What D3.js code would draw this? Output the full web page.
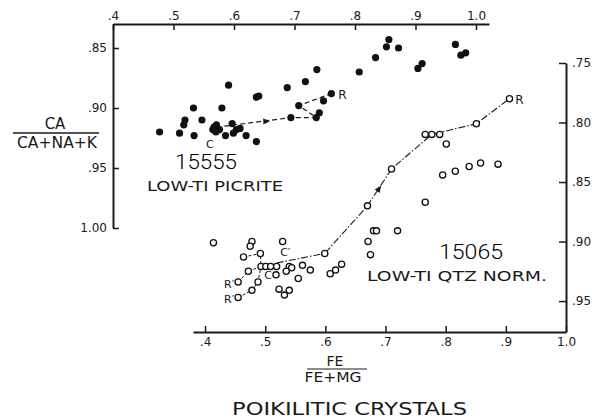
<!DOCTYPE html>
<html>
<head>
<meta charset="utf-8">
<title>Poikilitic crystals</title>
<script src="https://d3js.org/d3.v7.min.js"></script>
<style>
  body { margin: 0; padding: 0; background: #fff; }
  text { font-family: "DejaVu Sans", sans-serif; fill: #1a1a1a; }
  .axis path, .axis line { stroke: #1a1a1a; }
  .axis path { stroke-width: 2px; }
  .axis line { stroke-width: 1.5px; }
  .big { font-family: Roboto, "DejaVu Sans", sans-serif; font-weight: 300; fill: #000; }
</style>
</head>
<body>
<div id="my_dataviz"></div>
<script>
// ---- data ----
// 15555 low-Ti picrite, filled dots: FE/(FE+MG) and CA/(CA+NA+K)
var picriteFe = [0.477, 0.510, 0.519, 0.517, 0.534, 0.533, 0.547, 0.580, 0.591, 0.567,
                 0.571, 0.565, 0.570, 0.576, 0.586, 0.597, 0.599, 0.604, 0.610, 0.620,
                 0.637, 0.637, 0.641, 0.688, 0.694, 0.707, 0.718, 0.737, 0.736, 0.741,
                 0.748, 0.761, 0.807, 0.834, 0.852, 0.856, 0.872, 0.904, 0.911, 0.966,
                 0.975, 0.983];
var picriteCa = [0.920, 0.921, 0.910, 0.914, 0.923, 0.900, 0.910, 0.900, 0.881, 0.916,
                 0.914, 0.918, 0.920, 0.918, 0.923, 0.913, 0.921, 0.918, 0.917, 0.923,
                 0.928, 0.891, 0.890, 0.883, 0.908, 0.898, 0.878, 0.868, 0.908, 0.904,
                 0.894, 0.888, 0.870, 0.858, 0.849, 0.843, 0.850, 0.867, 0.863, 0.847,
                 0.856, 0.854];
// core (C) to rim (R) trend, dashed
var picritePathFe = [0.571, 0.694, 0.736, 0.707, 0.761];
var picritePathCa = [0.916, 0.908, 0.908, 0.898, 0.888];

// 15065 low-Ti qtz normative, open circles
var qtzFe = [0.906, 0.851, 0.766, 0.777, 0.790, 0.801, 0.858, 0.887, 0.839, 0.816,
             0.795, 0.710, 0.670, 0.766, 0.680, 0.685, 0.720, 0.671, 0.675, 0.599,
             0.608, 0.617, 0.627, 0.414, 0.478, 0.475, 0.529, 0.464, 0.492, 0.493,
             0.501, 0.509, 0.519, 0.540, 0.544, 0.562, 0.575, 0.535, 0.518, 0.555,
             0.472, 0.455, 0.488, 0.478, 0.455, 0.523, 0.532, 0.540];
var qtzCa = [0.780, 0.801, 0.810, 0.810, 0.810, 0.818, 0.834, 0.835, 0.837, 0.841,
             0.844, 0.839, 0.870, 0.867, 0.891, 0.891, 0.891, 0.900, 0.911, 0.910,
             0.927, 0.924, 0.919, 0.901, 0.900, 0.904, 0.900, 0.913, 0.910, 0.921,
             0.921, 0.921, 0.921, 0.921, 0.922, 0.920, 0.924, 0.925, 0.928, 0.931,
             0.925, 0.934, 0.934, 0.941, 0.947, 0.940, 0.945, 0.941];
// main trend, dash-dot
var qtzPathFe = [0.519, 0.599, 0.670, 0.710, 0.777, 0.851, 0.906];
var qtzPathCa = [0.918, 0.910, 0.870, 0.839, 0.810, 0.801, 0.780];
// short rim (R') to core trends, dashed
var qtzRimPaths = [
  {fe: [0.464, 0.492, 0.493], ca: [0.913, 0.910, 0.921]},
  {fe: [0.455, 0.472, 0.493], ca: [0.934, 0.925, 0.921]},
  {fe: [0.455, 0.478, 0.488, 0.493], ca: [0.947, 0.941, 0.934, 0.921]}
];

// axis ticks
var topXTicks = [0.4, 0.5, 0.6, 0.7, 0.8, 0.9, 1.0];
var topXLabels = [".4", ".5", ".6", ".7", ".8", ".9", "1.0"];
var topYTicks = [0.85, 0.90, 0.95, 1.00];
var topYLabels = [".85", ".90", ".95", "1.00"];
var botXTicks = [0.4, 0.5, 0.6, 0.7, 0.8, 0.9, 1.0];
var botXLabels = [".4", ".5", ".6", ".7", ".8", ".9", "1.0"];
var botYTicks = [0.75, 0.80, 0.85, 0.90, 0.95];
var botYLabels = [".75", ".80", ".85", ".90", ".95"];

var width = 592, height = 420;

var svg = d3.select("#my_dataviz")
  .append("svg")
    .attr("width", width)
    .attr("height", height);

svg.append("rect").attr("width", width).attr("height", height).attr("fill", "#fff");

// scales: upper panel (15555)
var xTop = d3.scaleLinear().domain([0.4, 1.0215]).range([113, 489]);
var yTop = d3.scaleLinear().domain([0.83, 1.0]).range([24, 228]);
// lower panel (15065)
var xBot = d3.scaleLinear().domain([0.38, 1.0]).range([193, 566]);
var yBot = d3.scaleLinear().domain([0.75, 0.976]).range([63, 332]);

function fmt(ticks, labels) {
  return function(d) { return labels[ticks.indexOf(d)]; };
}

// upper axes
svg.append("g").attr("class", "axis")
  .attr("transform", "translate(0," + yTop.range()[0] + ")")
  .call(d3.axisBottom(xTop).tickValues(topXTicks).tickFormat(fmt(topXTicks, topXLabels))
        .tickSizeInner(6).tickSizeOuter(0).tickPadding(-10))
  .call(function(g) { g.selectAll("text").attr("font-size", 12).attr("dy", 0); });

svg.append("g").attr("class", "axis")
  .attr("transform", "translate(" + xTop.range()[0] + ",0)")
  .call(d3.axisLeft(yTop).tickValues(topYTicks).tickFormat(fmt(topYTicks, topYLabels))
        .tickSizeInner(-6).tickSizeOuter(0).tickPadding(6))
  .call(function(g) { g.selectAll("text").attr("font-size", 12); });

// lower axes
svg.append("g").attr("class", "axis")
  .attr("transform", "translate(0," + yBot.range()[1] + ")")
  .call(d3.axisBottom(xBot).tickValues(botXTicks).tickFormat(fmt(botXTicks, botXLabels))
        .tickSizeInner(-6).tickSizeOuter(0).tickPadding(5))
  .call(function(g) { g.selectAll("text").attr("font-size", 12); });

svg.append("g").attr("class", "axis")
  .attr("transform", "translate(" + xBot.range()[1] + ",0)")
  .call(d3.axisRight(yBot).tickValues(botYTicks).tickFormat(fmt(botYTicks, botYLabels))
        .tickSizeInner(-7).tickSizeOuter(0).tickPadding(6))
  .call(function(g) { g.selectAll("text").attr("font-size", 12); });

// trend lines
var lineTop = d3.line().x(function(d) { return xTop(d[0]); }).y(function(d) { return yTop(d[1]); });
var lineBot = d3.line().x(function(d) { return xBot(d[0]); }).y(function(d) { return yBot(d[1]); });

svg.append("path")
  .datum(d3.zip(picritePathFe, picritePathCa))
  .attr("d", lineTop)
  .attr("fill", "none").attr("stroke", "#1a1a1a").attr("stroke-width", 1.2)
  .attr("stroke-dasharray", "5,3");

svg.append("path")
  .datum(d3.zip(qtzPathFe, qtzPathCa))
  .attr("d", lineBot)
  .attr("fill", "none").attr("stroke", "#1a1a1a").attr("stroke-width", 1.1)
  .attr("stroke-dasharray", "7,2,1.5,2");

qtzRimPaths.forEach(function(p) {
  svg.append("path")
    .datum(d3.zip(p.fe, p.ca))
    .attr("d", lineBot)
    .attr("fill", "none").attr("stroke", "#1a1a1a").attr("stroke-width", 1)
    .attr("stroke-dasharray", "3,2");
});

// small arrowheads along the trends
function arrow(x, y, angle) {
  svg.append("path")
    .attr("d", "M-4,-3L3,0L-4,3Z")
    .attr("transform", "translate(" + x + "," + y + ") rotate(" + angle + ")")
    .attr("fill", "#1a1a1a");
}
arrow(xTop(0.655), yTop(0.911), -4);
arrow(xBot(0.690), yBot(0.855), -55);

// points
svg.append("g")
  .selectAll("circle")
  .data(d3.zip(picriteFe, picriteCa))
  .enter()
  .append("circle")
    .attr("cx", function(d) { return xTop(d[0]); })
    .attr("cy", function(d) { return yTop(d[1]); })
    .attr("r", 3.6)
    .attr("fill", "#111");

svg.append("g")
  .selectAll("circle")
  .data(d3.zip(qtzFe, qtzCa))
  .enter()
  .append("circle")
    .attr("cx", function(d) { return xBot(d[0]); })
    .attr("cy", function(d) { return yBot(d[1]); })
    .attr("r", 3.1)
    .attr("fill", "#fff")
    .attr("stroke", "#111")
    .attr("stroke-width", 1.3);

// point labels (core / rim)
function label(txt, x, y, size) {
  svg.append("text").attr("x", x).attr("y", y).attr("font-size", size || 12)
    .attr("text-anchor", "middle").text(txt);
}
label("C", xTop(0.565) - 3, yTop(0.928) + 6, 11);
label("R", xTop(0.761) + 11, yTop(0.888) + 5, 12);
label("R", xBot(0.906) + 10, yBot(0.780) + 5, 12);
label("C\u2032", xBot(0.530) + 2, yBot(0.913) - 1, 11);
label("C", xBot(0.518) - 8, yBot(0.928) + 4, 11);
label("R\u2032", xBot(0.455) - 9, yBot(0.934) + 6, 11);
label("R\u2032", xBot(0.455) - 9, yBot(0.947) + 6, 11);

// sample names
svg.append("text").attr("class", "big").attr("x", 175).attr("y", 169).attr("font-size", 21)
  .attr("textLength", 62).attr("lengthAdjust", "spacingAndGlyphs")
  .text("15555");
svg.append("text").attr("x", 147).attr("y", 191).attr("font-size", 14.5)
  .attr("textLength", 136).attr("lengthAdjust", "spacingAndGlyphs")
  .text("LOW-TI  PICRITE");
svg.append("text").attr("class", "big").attr("x", 439).attr("y", 259).attr("font-size", 21)
  .attr("textLength", 64).attr("lengthAdjust", "spacingAndGlyphs")
  .text("15065");
svg.append("text").attr("x", 367).attr("y", 281).attr("font-size", 14.5)
  .attr("textLength", 180).attr("lengthAdjust", "spacingAndGlyphs")
  .text("LOW-TI  QTZ  NORM.");

// y axis title (fraction)
svg.append("text").attr("x", 55).attr("y", 129).attr("font-size", 15)
  .attr("text-anchor", "middle").text("CA");
svg.append("line").attr("x1", 13).attr("x2", 99).attr("y1", 133).attr("y2", 133)
  .attr("stroke", "#1a1a1a").attr("stroke-width", 1.3);
svg.append("text").attr("x", 57).attr("y", 148).attr("font-size", 15)
  .attr("text-anchor", "middle").attr("textLength", 80).attr("lengthAdjust", "spacingAndGlyphs")
  .text("CA+NA+K");

// x axis title (fraction)
svg.append("text").attr("x", 335).attr("y", 366).attr("font-size", 14)
  .attr("text-anchor", "middle").text("FE");
svg.append("line").attr("x1", 307).attr("x2", 367).attr("y1", 369).attr("y2", 369)
  .attr("stroke", "#1a1a1a").attr("stroke-width", 1.2);
svg.append("text").attr("x", 333).attr("y", 382).attr("font-size", 14)
  .attr("text-anchor", "middle").attr("textLength", 57).attr("lengthAdjust", "spacingAndGlyphs")
  .text("FE+MG");

svg.append("text").attr("x", 232).attr("y", 415).attr("font-size", 18)
  .attr("textLength", 235).attr("lengthAdjust", "spacingAndGlyphs")
  .text("POIKILITIC  CRYSTALS");
</script>
</body>
</html>
